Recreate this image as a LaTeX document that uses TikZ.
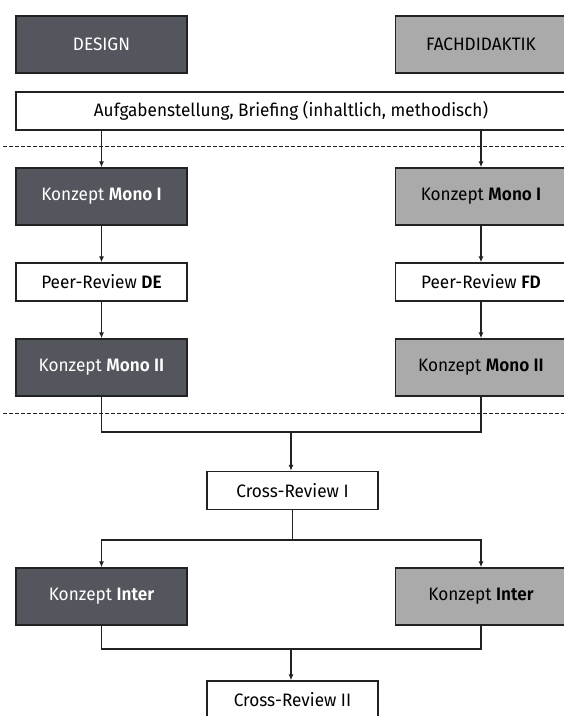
\documentclass[tikz,border=0pt]{standalone}
\usepackage{fontspec}
\setmainfont{Fira Sans}[BoldFont=* SemiBold, FakeStretch=0.955]
\usetikzlibrary{arrows.meta}
\definecolor{designgrau}{HTML}{53565C}
\definecolor{fachgrau}{HTML}{A9AAA9}
\definecolor{rahmen}{HTML}{222222}

\begin{document}
\begin{tikzpicture}[x=1pt, y=-1pt, font=\fontsize{18}{21}\selectfont,
  box/.style={draw=rahmen, line width=1.3pt, inner sep=0pt, minimum width=171pt, align=center},
  hoch/.style={box, minimum height=57pt},
  flach/.style={box, minimum height=38pt, fill=white},
  design/.style={hoch, fill=designgrau, text=white},
  fach/.style={hoch, fill=fachgrau, text=black},
  pfeil/.style={draw=rahmen, line width=1.3pt, -{Latex[length=6pt, width=5pt]}},
  linie/.style={draw=rahmen, line width=1.3pt},
  trenner/.style={draw=rahmen, line width=0.8pt, dash pattern=on 3.5pt off 2.5pt}]

\useasboundingbox (0, 0) rectangle (564, 716);

\node[design] (de) at (101.5, 44.5) {DESIGN};
\node[fach] (fd) at (481, 44.5) {FACHDIDAKTIK};
\node[flach, minimum width=550pt] (briefing) at (291, 111) {Aufgabenstellung, Briefing (inhaltlich, methodisch)};

\node[design] (monoIde) at (101.5, 196.5) {Konzept \textbf{Mono I}};
\node[fach] (monoIfd) at (481, 196.5) {Konzept \textbf{Mono I}};
\node[flach] (peerde) at (101.5, 282) {Peer-Review \textbf{DE}};
\node[flach] (peerfd) at (481, 282) {Peer-Review \textbf{FD}};
\node[design] (monoIIde) at (101.5, 367.5) {Konzept \textbf{Mono II}};
\node[fach] (monoIIfd) at (481, 367.5) {Konzept \textbf{Mono II}};

\node[flach] (crossI) at (292.5, 490.5) {Cross-Review I};
\node[design] (interde) at (101.5, 596.5) {Konzept \textbf{Inter}};
\node[fach] (interfd) at (481, 596.5) {Konzept \textbf{Inter}};
\node[flach] (crossII) at (292.5, 700) {Cross-Review II};

\coordinate (t1l) at (3, 146);
\coordinate (t1r) at (564, 146);
\coordinate (t2l) at (3, 413);
\coordinate (t2r) at (564, 413);
\draw[trenner] (t1l) -- (t1r);
\draw[trenner] (t2l) -- (t2r);

\draw[pfeil] (briefing.south -| monoIde) -- (monoIde.north);
\draw[pfeil] (briefing.south -| monoIfd) -- (monoIfd.north);
\draw[pfeil] (monoIde.south) -- (peerde.north);
\draw[pfeil] (monoIfd.south) -- (peerfd.north);
\draw[pfeil] (peerde.south) -- (monoIIde.north);
\draw[pfeil] (peerfd.south) -- (monoIIfd.north);

\coordinate (j1) at (291, 432);
\draw[linie] (monoIIde.south) |- (j1) -| (monoIIfd.south);
\draw[pfeil] (j1) -- (j1 |- crossI.north);

\coordinate (j2) at (291, 540);
\draw[linie] (crossI.south) -- (crossI.south |- j2);
\draw[pfeil] (j2) -| (interde.north);
\draw[pfeil] (j2) -| (interfd.north);

\coordinate (j3) at (291, 649);
\draw[linie] (interde.south) |- (j3) -| (interfd.south);
\draw[pfeil] (j3) -- (j3 |- crossII.north);

\end{tikzpicture}
\end{document}
